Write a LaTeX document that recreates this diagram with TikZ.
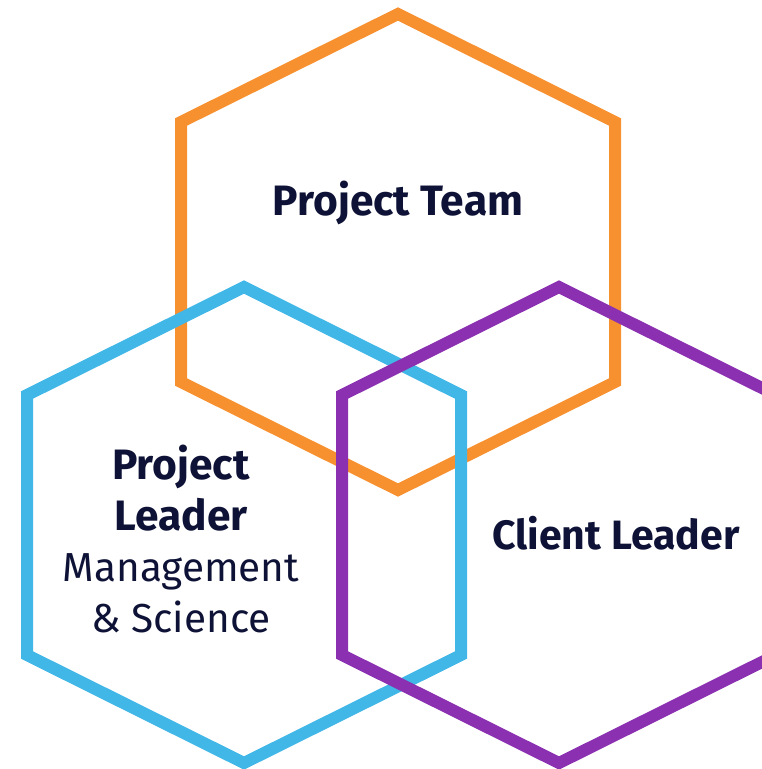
\documentclass[tikz,border=0pt]{standalone}
\usepackage{fontspec}
\setmainfont{Fira Sans}
\usepackage{xcolor}
\usepackage{tikz}
\usetikzlibrary{positioning}
\definecolor{hexorange}{RGB}{247,145,48}
\definecolor{hexblue}{RGB}{64,183,230}
\definecolor{hexpurple}{RGB}{139,48,176}
\definecolor{navy}{RGB}{14,18,54}
\tikzstyle{hexline}=[line width=12pt, line join=miter]
\tikzstyle{title}=[text=navy, inner sep=0pt, anchor=base, font=\fontsize{42.5}{51}\selectfont\bfseries]
\tikzstyle{roletext}=[text=navy, inner sep=0pt, anchor=base, align=center, font=\fontsize{40.5}{51}\selectfont]

\begin{document}
\begin{tikzpicture}[x=1pt, y=-1pt]

 \useasboundingbox (0,0) rectangle (762,769);
 \clip (0,0) rectangle (762,769);

 %hexagons
  \def\hw{217};
  \def\hs{108};
  \def\hl{260};

   \foreach \name/\x/\y/\col in {team/398/14/hexorange, leader/244/287/hexblue, client/559/287/hexpurple}
          \draw[hexline, draw=\col] (\x,\y) coordinate (\name) -- ++(\hw,\hs) -- ++(0,\hl) -- ++(-\hw,\hs) -- ++(-\hw,-\hs) -- ++(0,-\hl) -- cycle;

 %labels
 \node[title] (teamlabel) at (398,215) {Project Team};
 \node[title, font=\fontsize{41}{51}\selectfont\bfseries] (clientlabel) at (616,549) {Client Leader};
 \node[roletext] (leaderlabel) at (181,632) {{\fontsize{42.5}{51}\selectfont\bfseries Project}\\ {\fontsize{42.5}{51}\selectfont\bfseries Leader}\\ Management\\ \& Science};

\end{tikzpicture}
\end{document}
